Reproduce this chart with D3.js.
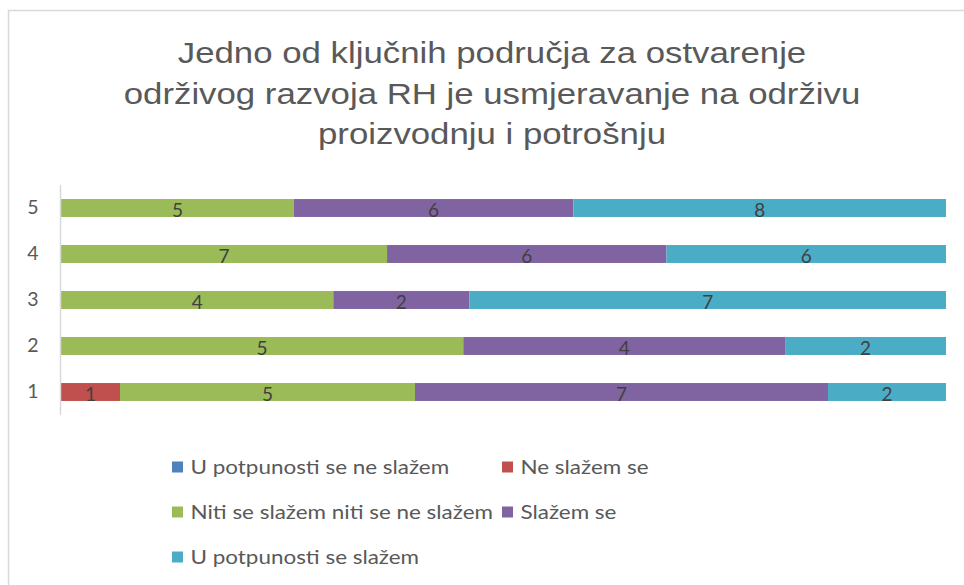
<!DOCTYPE html>
<html>
<head>
<meta charset="utf-8">
<script src="https://cdn.jsdelivr.net/npm/d3@7"></script>
<style>
  html, body { margin: 0; padding: 0; background: #fff; }
  svg { display: block; }
</style>
</head>
<body>
<svg id="chart" width="964" height="585"></svg>
<script>
// Answers per statement level (1–5), counts per response category
const categories = ["1", "2", "3", "4", "5"];
const seriesNames = [
  "U potpunosti se ne slažem",
  "Ne slažem se",
  "Niti se slažem niti se ne slažem",
  "Slažem se",
  "U potpunosti se slažem"
];
const uPotpunostiNeSlazem = [0, 0, 0, 0, 0];
const neSlazemSe = [1, 0, 0, 0, 0];
const nitiNiti = [5, 5, 4, 7, 5];
const slazemSe = [7, 4, 2, 6, 6];
const uPotpunostiSlazem = [2, 2, 7, 6, 8];
const titleLines = [
  "Jedno od ključnih područja za ostvarenje",
  "održivog razvoja RH je usmjeravanje na održivu",
  "proizvodnju i potrošnju"
];

const colors = ["#4F81BD", "#C0504D", "#9BBB59", "#8064A2", "#4BACC6"];
const seriesValues = [uPotpunostiNeSlazem, neSlazemSe, nitiNiti, slazemSe, uPotpunostiSlazem];

const rows = categories.map((c, i) => {
  const r = { cat: c };
  seriesNames.forEach((s, j) => { r[s] = seriesValues[j][i]; });
  return r;
});

const svg = d3.select("#chart");
const wide = 1.2; // horizontal stretch of the wide text faces

// chart frame
svg.append("path")
  .attr("d", "M8.5,600 V10.5 H970")
  .attr("fill", "none")
  .attr("stroke", "#d9d9d9")
  .attr("stroke-width", 1.5);

// title
svg.append("g")
  .attr("transform", `translate(492,0) scale(${wide},1)`)
  .append("text")
  .attr("text-anchor", "middle")
  .attr("font-family", "'Liberation Sans', Arial, sans-serif")
  .attr("font-size", 29)
  .attr("fill", "#595959")
  .selectAll("tspan")
  .data(titleLines)
  .join("tspan")
  .attr("x", 0)
  .attr("y", (d, i) => 63 + i * 40.7)
  .text(d => d);

const x = d3.scaleLinear().domain([0, 1]).range([61, 946]);
const y = d3.scaleBand()
  .domain(categories.slice().reverse())
  .range([185, 415])
  .paddingInner(0.61)
  .paddingOuter(0.305);

const stack = d3.stack()
  .keys(seriesNames)
  .offset(d3.stackOffsetExpand);
const stacked = stack(rows);

const layers = svg.append("g")
  .selectAll("g")
  .data(stacked)
  .join("g")
  .attr("fill", (d, i) => colors[i]);

layers.selectAll("rect")
  .data(d => d.filter(p => p.data[d.key] > 0))
  .join("rect")
  .attr("x", p => x(p[0]))
  .attr("width", p => x(p[1]) - x(p[0]))
  .attr("y", p => y(p.data.cat))
  .attr("height", y.bandwidth());

// value labels
const labels = svg.append("g")
  .attr("font-family", "Lato, Carlito, Calibri, sans-serif")
  .attr("font-size", 19)
  .attr("fill", "#404040")
  .attr("text-anchor", "middle");

stacked.forEach(layer => {
  labels.selectAll(null)
    .data(layer.filter(p => p.data[layer.key] > 0))
    .join("text")
    .attr("x", p => (x(p[0]) + x(p[1])) / 2)
    .attr("y", p => y(p.data.cat) + y.bandwidth() / 2)
    .attr("dy", "0.45em")
    .text(p => p.data[layer.key]);
});

// category axis
const axis = svg.append("g")
  .attr("transform", "translate(60.5,0)")
  .call(d3.axisLeft(y).tickSize(0).tickPadding(22));
axis.select(".domain").attr("stroke", "#d9d9d9").attr("stroke-width", 1.5)
  .attr("d", "M0,185V415");
axis.selectAll("text")
  .attr("font-family", "Lato, Carlito, Calibri, sans-serif")
  .attr("font-size", 19.5)
  .attr("fill", "#595959");

// legend
const legendPos = [
  [172, 467], [502, 467],
  [172, 512], [502, 512],
  [172, 557]
];
const legend = svg.append("g")
  .selectAll("g")
  .data(seriesNames)
  .join("g")
  .attr("transform", (d, i) => `translate(${legendPos[i][0]},${legendPos[i][1]})`);
legend.append("rect")
  .attr("x", 0).attr("y", -5.5)
  .attr("width", 11).attr("height", 11)
  .attr("fill", (d, i) => colors[i]);
legend.append("g")
  .attr("transform", `translate(18.5,0) scale(${wide},1)`)
  .append("text")
  .attr("dy", "0.36em")
  .attr("font-family", "Lato, Carlito, Calibri, sans-serif")
  .attr("font-size", 18.7)
  .attr("fill", "#595959")
  .text(d => d);
</script>
</body>
</html>
